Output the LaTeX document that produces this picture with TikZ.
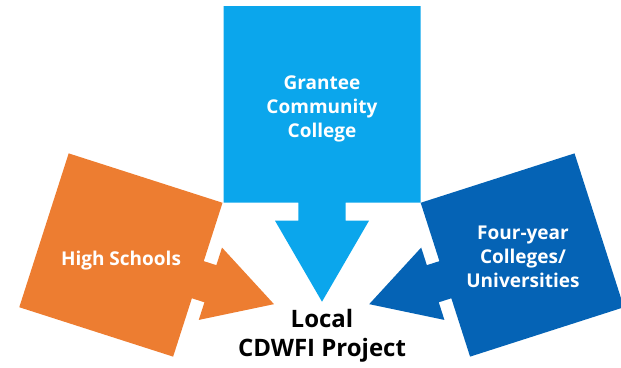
\documentclass[tikz,border=0pt]{standalone}
\usepackage{fontspec}
\setmainfont{Open Sans}
\definecolor{cOrange}{HTML}{ED7D31}
\definecolor{cLight}{HTML}{0BA6EC}
\definecolor{cDark}{HTML}{0563B5}
\begin{document}
\begin{tikzpicture}[x=1pt,y=-1pt,
  boxtext/.style={text=white,font=\fontsize{19}{24}\selectfont\bfseries,align=center,inner sep=0pt},
  maintext/.style={text=black,font=\fontsize{24}{28.5}\selectfont\bfseries,align=center,inner sep=0pt}]
\useasboundingbox (0,0) rectangle (621,367);
% center callout
\fill[cLight] (223.5,6) -- (420.5,6) -- (420.5,202.7) -- (345.7,202.7) -- (345.7,220.7)
  -- (369,220.7) -- (322,301.7) -- (275,220.7) -- (298.3,220.7) -- (298.3,202.7)
  -- (223.5,202.7) -- cycle;
% left callout
\begin{scope}[shift={(120.9,255)},rotate=-17.8]
\fill[cOrange] (-80.8,-80.8) -- (80.8,-80.8) -- (80.8,-19.5) -- (94,-19.5) -- (94,-38)
  -- (160.8,0) -- (94,38) -- (94,19.5) -- (80.8,19.5) -- (80.8,80.8) -- (-80.8,80.8) -- cycle;
\end{scope}
% right callout
\begin{scope}[shift={(522.3,255)},rotate=17.8,xscale=-1]
\fill[cDark] (-80.8,-80.8) -- (80.8,-80.8) -- (80.8,-19.5) -- (94,-19.5) -- (94,-38)
  -- (160.8,0) -- (94,38) -- (94,19.5) -- (80.8,19.5) -- (80.8,80.8) -- (-80.8,80.8) -- cycle;
\end{scope}
\node[boxtext] (gcc) at (322,109) {Grantee\\Community\\College};
\node[boxtext] (hs) at (121,261) {High Schools};
\node[boxtext] (fy) at (523,257) {Four-year\\Colleges/\\Universities};
\node[maintext] (local) at (322,336) {Local\\CDWFI Project};
\end{tikzpicture}
\end{document}
